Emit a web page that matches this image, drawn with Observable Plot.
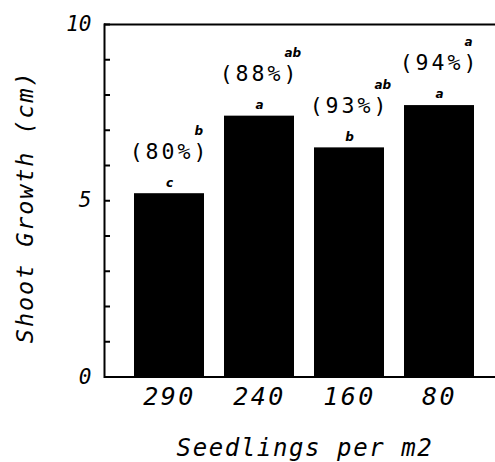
<!DOCTYPE html>
<html>
<head>
<meta charset="utf-8">
<script src="https://cdn.jsdelivr.net/npm/d3@7"></script>
<script src="https://cdn.jsdelivr.net/npm/@observablehq/plot@0.6"></script>
<style>
  html, body { margin: 0; padding: 0; background: #fff; }
  #chart svg { display: block; }
  #chart g[font-size="24"] text { letter-spacing: 1.6px; }
  #chart g[font-size="23.5"] text { letter-spacing: 1.9px; }
  #chart g[font-size="25"] text { letter-spacing: 2.5px; }
  #chart g[font-size="21.5"] text { letter-spacing: 3px; }
</style>
</head>
<body>
<div id="chart"></div>
<script>
const densities = ["290", "240", "160", "80"];
const growth = [5.2, 7.4, 6.5, 7.7];
const barLetters = ["c", "a", "b", "a"];
const survival = ["(80%)", "(88%)", "(93%)", "(94%)"];
const survivalLetters = ["b", "ab", "ab", "a"];
const yTicksMinor = d3.range(0, 11);
const yTickLabels = [0, 5, 10];

const data = densities.map((d, i) => ({
  density: d, growth: growth[i], letter: barLetters[i],
  pct: survival[i], pctLetter: survivalLetters[i]
}));

const mono = "'DejaVu Sans Mono', monospace";

const chart = Plot.plot({
  width: 495,
  height: 462,
  marginLeft: 104,
  marginRight: 0,
  marginTop: 24,
  marginBottom: 85.5,
  style: {background: "#fff", color: "#000"},
  x: {domain: densities, range: [122.75, 484.75], paddingInner: 0.227, paddingOuter: 0.1135, label: null},
  y: {domain: [0, 10], label: null},
  marks: [
    Plot.barY(data, {x: "density", y: "growth", fill: "#000"}),
    Plot.tickY(yTicksMinor, {y: d => d, insetRight: 385, stroke: "#000", strokeWidth: 2}),
    Plot.ruleY([0, 10], {stroke: "#000", strokeWidth: 2}),
    Plot.frame({anchor: "left", stroke: "#000", strokeWidth: 2}),
    Plot.axisY({ticks: yTickLabels, tickSize: 0, tickPadding: 13, label: null,
      fontSize: 21, fontStyle: "italic", fontFamily: mono}),
    Plot.axisX({tickSize: 0, tickPadding: 10, label: null,
      fontSize: 25, fontStyle: "italic", fontFamily: mono}),
    Plot.text(data, {x: "density", y: "growth", text: "letter", dy: -11, lineAnchor: "middle",
      fontSize: 12, fontWeight: "bold", fontStyle: "italic", fontFamily: "'DejaVu Sans', sans-serif"}),
    Plot.text(data, {x: "density", y: "growth", text: "pct", dx: 0, dy: -42, lineAnchor: "middle",
      fontSize: 21.5, fontFamily: mono}),
    Plot.text(data, {x: "density", y: "growth", text: "pctLetter", dx: 25, dy: -63, lineAnchor: "middle",
      textAnchor: "start", fontSize: 12, fontWeight: "bold", fontStyle: "italic", fontFamily: "'DejaVu Sans', sans-serif"}),
    Plot.text(["Seedlings per m2"], {frameAnchor: "bottom", dx: 5, dy: 71, lineAnchor: "middle", textAnchor: "middle",
      fontSize: 24, fontStyle: "italic", fontFamily: mono}),
    Plot.text(["Shoot Growth (cm)"], {frameAnchor: "left", dx: -79, dy: 6, rotate: -90, lineAnchor: "middle", textAnchor: "middle",
      fontSize: 23.5, fontStyle: "italic", fontFamily: mono})
  ]
});
document.getElementById("chart").appendChild(chart);
</script>
</body>
</html>
